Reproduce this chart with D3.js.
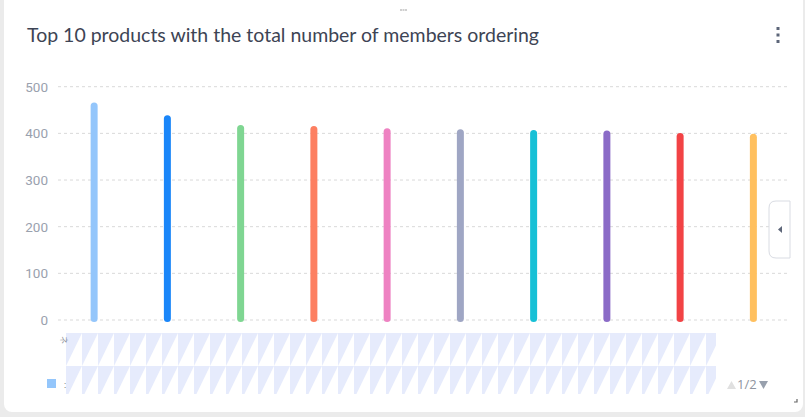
<!DOCTYPE html>
<html><head><meta charset="utf-8">
<script src="https://cdn.jsdelivr.net/npm/d3@7/dist/d3.min.js"></script>
<style>
html,body{margin:0;padding:0;background:#ebebeb;}
svg{display:block;}
</style></head>
<body>
<svg id="chart" width="805" height="417"></svg>
<script>
const title = "Top 10 products with the total number of members ordering";
const categories = ["P1","P2","P3","P4","P5","P6","P7","P8","P9","P10"];
const values = [466, 439, 418, 416, 411, 409, 407, 406, 401, 399];
const colors = ["#94c6fb","#1a86f9","#7fd692","#fd7f61","#ee82c2","#9fa6c4","#17c0d6","#8b6bc7","#f24345","#ffc05f"];
const yTicks = [0, 100, 200, 300, 400, 500];
const pagerText = "1/2";

const svg = d3.select("#chart");

// card
svg.append("rect").attr("x",4).attr("y",-8).attr("width",799).attr("height",420)
  .attr("rx",8).attr("fill","#ffffff");

// top drag handle
[400,402.5,405].forEach(hx=>svg.append("rect").attr("x",hx).attr("y",9).attr("width",2).attr("height",2).attr("fill","#d0d0d0"));

// title
svg.append("text").attr("x",27).attr("y",42).text(title)
  .attr("font-family","Lato, 'Open Sans', sans-serif").attr("font-size",19)
  .attr("fill","#3d4454").attr("textLength",512).attr("lengthAdjust","spacingAndGlyphs");

// kebab
[28.5,35,41.5].forEach(cy=>svg.append("rect").attr("x",776.5).attr("y",cy-1.5).attr("width",3).attr("height",3).attr("fill","#5d6679"));

const x = d3.scaleBand().domain(categories).range([57.5,790]).padding(0);
const y = d3.scaleLinear().domain([0,500]).range([320,86.7]);

// grid
const grid = svg.append("g");
yTicks.forEach(t=>{
  grid.append("line").attr("x1",58).attr("x2",790).attr("y1",y(t)).attr("y2",y(t))
    .attr("stroke","#d9d9d9").attr("stroke-dasharray","3,3").attr("stroke-width",1);
});

// y axis labels
const yAxis = d3.axisLeft(y).tickValues(yTicks).tickSize(0).tickPadding(0);
const yg = svg.append("g").attr("transform","translate(48,0)").call(yAxis);
yg.select(".domain").remove();
yg.selectAll("text").attr("font-family","Roboto, sans-serif").attr("font-size",13.5).attr("fill","#9aa1ae");

// bars
const bw = 7;
svg.append("g").selectAll("rect").data(values).join("rect")
  .attr("x",(d,i)=>x(categories[i])+x.bandwidth()/2-bw/2)
  .attr("y",d=>y(d))
  .attr("width",bw)
  .attr("height",d=>y(0)-y(d)+2)
  .attr("rx",3.5)
  .attr("fill",(d,i)=>colors[i]);

// hatched placeholder area (axis labels area)
const defs = svg.append("defs");
const pat = defs.append("pattern").attr("id","hatch").attr("patternUnits","userSpaceOnUse")
  .attr("width",16).attr("height",33).attr("x",66).attr("y",333);
pat.append("rect").attr("width",16).attr("height",33).attr("fill","#ffffff");
pat.append("polygon").attr("points","0,0 16,0 0,33").attr("fill","#e6ebfc");
svg.append("rect").attr("x",66).attr("y",333).attr("width",650).attr("height",61).attr("fill","url(#hatch)");

// clipped rotated label fragment
svg.append("text").attr("transform","translate(61,336) rotate(90)").text("ネ")
  .attr("font-family","'Noto Sans CJK JP', sans-serif").attr("font-size",8).attr("fill","#8a8f99");

// legend
svg.append("rect").attr("x",47).attr("y",379).attr("width",9).attr("height",9).attr("fill",colors[0]);
svg.append("text").attr("x",64).attr("y",388).text(":").attr("font-size",9).attr("fill","#555")
  .attr("font-family","Roboto, sans-serif");

// pager
svg.append("path").attr("d","M727,389 L731.5,381 L736,389 Z").attr("fill","#e0e0e0");
svg.append("text").attr("x",737).attr("y",389).text(pagerText)
  .attr("font-family","'Open Sans', sans-serif").attr("font-size",13).attr("fill","#8f95a0");
svg.append("path").attr("d","M759,381 L768,381 L763.5,389 Z").attr("fill","#98a0ad");

// right collapse tab
svg.append("path").attr("d","M790,201 L776,201 Q769,201 769,208 L769,251 Q769,258 776,258 L790,258 Z")
  .attr("fill","#ffffff").attr("stroke","#d9dce3").attr("stroke-width",1);
svg.append("path").attr("d","M778,229.5 L782,226 L782,233 Z").attr("fill","#5d6679");

// resize corner
svg.append("path").attr("d","M794,402 L797,402 L797,399").attr("fill","none").attr("stroke","#666").attr("stroke-width",1.2);
</script>
</body></html>
